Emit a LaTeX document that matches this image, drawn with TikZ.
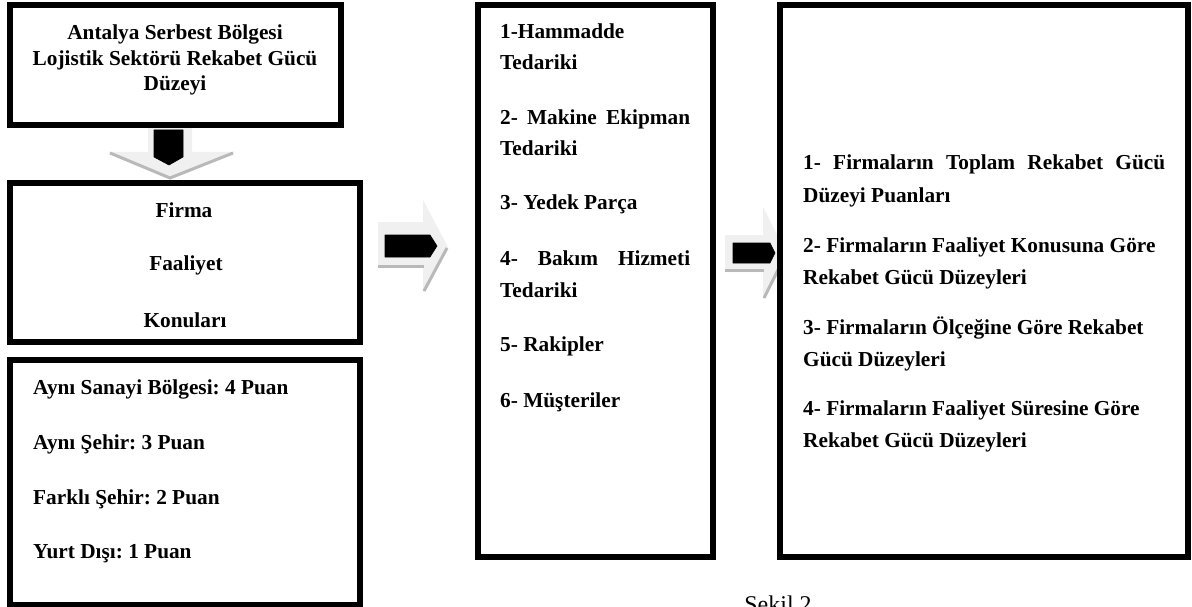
\documentclass[tikz,border=0pt]{standalone}
\usepackage{fontspec}
\setmainfont{Liberation Serif}
\frenchspacing
\begin{document}
\begin{tikzpicture}[x=1pt,y=-1pt,
  boxframe/.style={draw=black,line width=6pt,fill=white},
  tx/.style={anchor=base west,inner sep=0pt,font=\fontsize{21.3}{25}\selectfont\bfseries\frenchspacing},
  ctx/.style={anchor=base,inner sep=0pt,font=\fontsize{21.3}{25}\selectfont\bfseries\frenchspacing},
  arrlight/.style={fill=gray!12,draw=none},
  arrshadow/.style={draw=gray!55,line width=3pt},
  arrdark/.style={fill=black,draw=black,line width=0.6pt,line join=round}]
\useasboundingbox (0,0) rectangle (1192,607);
\fill[white] (0,0) rectangle (1192,607);

% ---- down arrow between A and B
\fill[arrlight] (148,123) -- (192,123) -- (192,152) -- (235,152) -- (170,179) -- (108,152) -- (148,152) -- cycle;
\draw[arrshadow] (110,153) -- (170,178) -- (233,153);
\fill[arrdark] (154,130) -- (183,130) -- (183,157) -- (169,165) -- (154,157) -- cycle;

% ---- boxes
\node[boxframe,minimum width=331.5pt,minimum height=120pt,inner sep=0pt] (A) at (175.25,65) {};
\node[boxframe,minimum width=350pt,minimum height=159pt,inner sep=0pt] (B) at (185,262.5) {};
\node[boxframe,minimum width=350pt,minimum height=244.5pt,inner sep=0pt] (C) at (185,482.25) {};
\node[boxframe,minimum width=235pt,minimum height=552pt,inner sep=0pt] (M) at (595.5,281) {};

% ---- right arrow 1 (B -> M)
\fill[arrlight] (378,222) -- (423,222) -- (423,200) -- (448,247) -- (423,293) -- (423,268) -- (378,268) -- cycle;
\draw[arrshadow] (378,266.5) -- (424,266.5);
\draw[arrshadow] (424,291) -- (447,248);
\fill[arrdark] (385,235) -- (430,235) -- (437,246) -- (430,257) -- (385,257) -- cycle;

% ---- right arrow 2 (M -> R)
\fill[arrlight] (725,235) -- (763,235) -- (763,207) -- (786,253) -- (763,300) -- (763,272) -- (725,272) -- cycle;
\draw[arrshadow] (725,270.5) -- (764,270.5);
\draw[arrshadow] (764,298) -- (785,256);
\fill[arrdark] (733,243) -- (770,243) -- (775,253) -- (770,263) -- (733,263) -- cycle;

\node[boxframe,minimum width=408pt,minimum height=552pt,inner sep=0pt] (R) at (984,281) {};

% ---- box A text
\node[ctx] (a1) at (175,40) {Antalya Serbest Bölgesi};
\node[ctx] (a2) at (175,66) {Lojistik Sektörü Rekabet Gücü};
\node[ctx] (a3) at (175,91) {Düzeyi};

% ---- box B text
\node[ctx] (b1) at (184,217) {Firma};
\node[ctx] (b2) at (186,270) {Faaliyet};
\node[ctx] (b3) at (185,327) {Konuları};

% ---- box C text
\node[tx] (c1) at (33,394) {Aynı Sanayi Bölgesi: 4 Puan};
\node[tx] (c2) at (33,449) {Aynı Şehir: 3 Puan};
\node[tx] (c3) at (33,504) {Farklı Şehir: 2 Puan};
\node[tx] (c4) at (33,558) {Yurt Dışı: 1 Puan};

% ---- box M text
\node[tx] (m1) at (500,39) {1-Hammadde};
\node[tx] (m2) at (500,70) {Tedariki};
\node[tx] (m3) at (500,125) {\makebox[190pt][s]{2- Makine Ekipman}};
\node[tx] (m4) at (500,156) {Tedariki};
\node[tx] (m5) at (500,210) {3- Yedek Parça};
\node[tx] (m6) at (500,265) {\makebox[190pt][s]{4- Bakım Hizmeti}};
\node[tx] (m7) at (500,297) {Tedariki};
\node[tx] (m8) at (500,351) {5- Rakipler};
\node[tx] (m9) at (500,407) {6- Müşteriler};

% ---- box R text
\node[tx] (r1) at (803,170) {\makebox[362pt][s]{1- Firmaların Toplam Rekabet Gücü}};
\node[tx] (r2) at (803,202) {Düzeyi Puanları};
\node[tx] (r3) at (803,252) {2- Firmaların Faaliyet Konusuna Göre};
\node[tx] (r4) at (803,284) {Rekabet Gücü Düzeyleri};
\node[tx] (r5) at (803,334) {3- Firmaların Ölçeğine Göre Rekabet};
\node[tx] (r6) at (803,366) {Gücü Düzeyleri};
\node[tx] (r7) at (803,415) {4- Firmaların Faaliyet Süresine Göre};
\node[tx] (r8) at (803,447) {Rekabet Gücü Düzeyleri};

% ---- caption (cut off at bottom, as in the reference)
\node[anchor=base,inner sep=0pt,font=\fontsize{24}{28}\selectfont] (cap) at (778,612) {Şekil 2};
\end{tikzpicture}
\end{document}
